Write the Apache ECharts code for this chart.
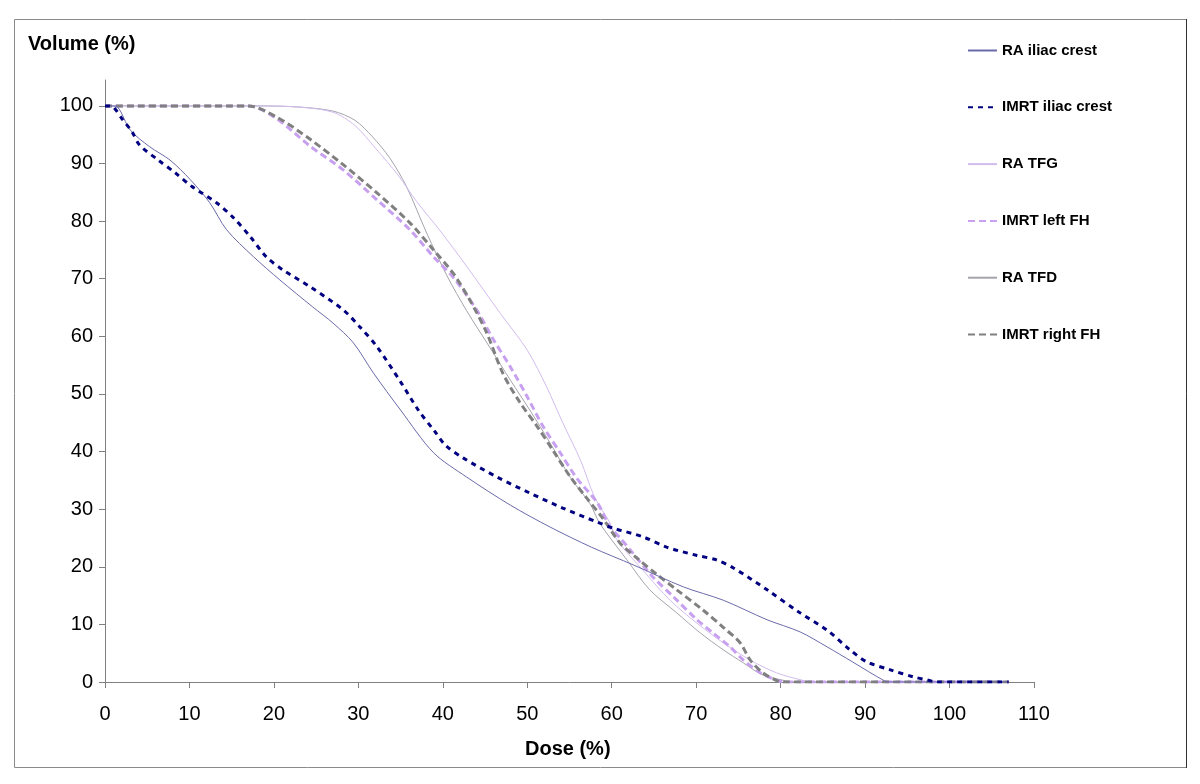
<!DOCTYPE html>
<html>
<head>
<meta charset="utf-8">
<script src="https://cdn.jsdelivr.net/npm/echarts@6/dist/echarts.min.js"></script>
<style>
  html, body { margin: 0; padding: 0; background: #fff; }
  #chart { width: 1200px; height: 784px; }
</style>
</head>
<body>
<div id="chart"></div>
<script>
// ---- data (dose %, volume %) ----
const seriesNames = ['RA iliac crest', 'IMRT iliac crest', 'RA TFG', 'IMRT left FH', 'RA TFD', 'IMRT right FH'];

const raIliacCrest = [[0,100],[0.8,100],[1.5,99.8],[3,95.8],[5.3,92.9],[7.7,90.6],[10.1,87.2],[12.4,83.2],[14.4,78.5],[17.6,73.8],[20.7,69.8],[24.6,65.1],[27,62.3],[29.4,58.9],[31.8,53.6],[35,47.2],[38.9,39.8],[42.8,35.6],[48,30.7],[52.7,26.9],[57.6,23.4],[62.6,20.3],[68.5,16.5],[73.2,14.2],[78.4,10.8],[82.3,8.7],[85.5,6.1],[88.5,3.5],[92.3,0.2],[93,0],[107,0]];

const imrtIliacCrest = [[0,100],[0.5,100],[1,99.8],[2.1,97.6],[3.2,95.5],[4.1,93.2],[6.3,90.6],[8.3,88.4],[10.3,86],[13.2,83.2],[15.2,80.6],[17.2,77.3],[19.1,73.8],[21.1,71.5],[24.3,68.6],[28.2,64.6],[30.2,61.6],[32.2,58.2],[35,52.1],[37.1,47.2],[39.1,43.4],[40.3,41.1],[42.4,38.9],[46.4,35.6],[50.3,32.8],[54.2,30.2],[58.2,27.8],[60.2,26.7],[63.7,25.2],[66.5,23.4],[70,22],[72.4,21.2],[74.4,19.8],[78.4,16],[82.3,12],[85.5,9],[88.2,5.6],[90.2,3.5],[93,2.1],[95.7,0.9],[97.5,0.3],[98.5,0],[107,0]];

const raTFG = [[0,100],[16,100],[18,100],[23,99.8],[27,98.9],[29.6,96.6],[32,92.7],[34.7,88],[36.9,83.4],[39.7,78.3],[42.8,72.2],[46.8,64],[50,57.6],[52.3,51.2],[54.2,45],[56.3,38.5],[58,32],[59.8,27.6],[60.6,24.7],[63.7,19.4],[66.9,14.2],[70.1,10.2],[73.2,6.8],[76.4,3.8],[79.5,1.6],[82.6,0.3],[84,0],[107,0]];

const imrtLeftFH = [[0,100],[15,100],[17,100],[20.3,97.8],[24.3,93],[28.2,88.9],[32.2,83.7],[36.1,78.5],[38.9,73.8],[41.2,70.3],[44,64.6],[46,59.4],[48,54.7],[50,49.5],[51.9,44.3],[53.9,39.8],[55.9,35.3],[58.3,31.1],[59.8,26.9],[61,25],[62.2,22.9],[64.9,18.2],[67.3,14.8],[70.1,10.8],[72,8.5],[74,6.1],[75.6,3.8],[77.6,1.6],[79.5,0.3],[80.5,0],[107,0]];

const raTFD = [[0,100],[16,100],[18,100],[23,99.8],[27,99.1],[29.6,97.5],[31.7,94.6],[33.7,91],[35.7,86],[38.1,77.9],[40.5,70.5],[42.8,64.5],[45.6,58],[48,52.4],[50.3,47.2],[52.7,41.5],[55.1,35.5],[57.4,31],[58.6,27.5],[61.8,21.2],[64.5,16],[67.7,12],[70.5,8.5],[73.2,5.6],[75.6,3.3],[77.9,1.2],[80.3,0.3],[81.5,0],[107,0]];

const imrtRightFH = [[0,100],[15,100],[17,100],[20.4,98],[24.3,94.2],[28.2,89.8],[32.2,84.9],[36.1,79.7],[38.9,75],[41.2,71],[43.2,66.3],[45.2,60.6],[47.1,53.6],[49.1,48.6],[51.2,44.3],[53,40.3],[55.1,35.6],[57,32],[59,28.3],[61,24.1],[63,21.5],[65.4,18.6],[67.7,16],[70.8,12.5],[73.2,9.5],[75.2,6.8],[76.4,3.8],[77.9,1.6],[79.5,0.3],[80.5,0],[107,0]];

const yTickValues = [0,10,20,30,40,50,60,70,80,90,100];

// ---- styles ----
const seriesData = [raIliacCrest, imrtIliacCrest, raTFG, imrtLeftFH, raTFD, imrtRightFH];
const seriesStyles = [
  { color: '#6a6aaa', width: 1, type: 'solid' },
  { color: '#000080', width: 3, type: [5, 5] },
  { color: '#d2bcee', width: 1, type: 'solid' },
  { color: '#c8a0f0', width: 3, type: [7, 4] },
  { color: '#a4a4ac', width: 1, type: 'solid' },
  { color: '#808080', width: 3, type: [7, 4] }
];
const drawOrder = [4, 2, 3, 5, 0, 1];

const chart = echarts.init(document.getElementById('chart'));
const FONT = '"Liberation Sans", Arial, sans-serif';

const series = drawOrder.map(function (i) {
  const s = seriesStyles[i];
  return {
    name: seriesNames[i],
    type: 'line',
    data: seriesData[i],
    symbol: 'none',
    smooth: 0.3,
    z: 2 + drawOrder.indexOf(i),
    color: s.color,
    lineStyle: { color: s.color, width: s.width, type: s.type, cap: 'butt' },
    animation: false
  };
});

chart.setOption({
  backgroundColor: '#ffffff',
  animation: false,
  grid: { left: 105, right: 166, top: 80, bottom: 102 },
  xAxis: {
    type: 'value', min: 0, max: 110, interval: 10,
    axisLine: { show: true, lineStyle: { color: '#808080', width: 1 } },
    axisTick: { show: true, length: 6, lineStyle: { color: '#808080' } },
    axisLabel: { color: '#000', fontSize: 20, fontFamily: FONT, margin: 22 },
    splitLine: { show: false }
  },
  yAxis: {
    type: 'value', min: 0, max: 104.5, interval: 10,
    axisLine: { show: true, lineStyle: { color: '#808080', width: 1 } },
    axisTick: { show: true, length: 6, customValues: yTickValues, lineStyle: { color: '#808080' } },
    axisLabel: { color: '#000', fontSize: 20, fontFamily: FONT, margin: 12, customValues: yTickValues },
    splitLine: { show: false }
  },
  legend: {
    orient: 'vertical',
    left: 962, top: 38,
    itemWidth: 29, itemHeight: 14, itemGap: 41.8,
    data: seriesNames,
    itemStyle: { opacity: 0, borderWidth: 0 },
    textStyle: { color: '#000', fontSize: 15, fontWeight: 'bold', fontFamily: FONT },
    selectedMode: false
  },
  graphic: [
    { type: 'rect', shape: { x: 14.5, y: 19.5, width: 1172, height: 748 }, style: { fill: 'none', stroke: '#8a8a8a', lineWidth: 1 }, silent: true, z: 0 },
    { type: 'line', shape: { x1: 1186.5, y1: 19, x2: 1186.5, y2: 768 }, style: { stroke: '#333', lineWidth: 1 }, silent: true, z: 0 },
    { type: 'text', left: 28, top: 34, style: { text: 'Volume (%)', fill: '#000', font: 'bold 20px ' + FONT }, z: 10 },
    { type: 'text', left: 525, top: 739, style: { text: 'Dose (%)', fill: '#000', font: 'bold 20px ' + FONT }, z: 10 }
  ],
  series: series
});
</script>
</body>
</html>
